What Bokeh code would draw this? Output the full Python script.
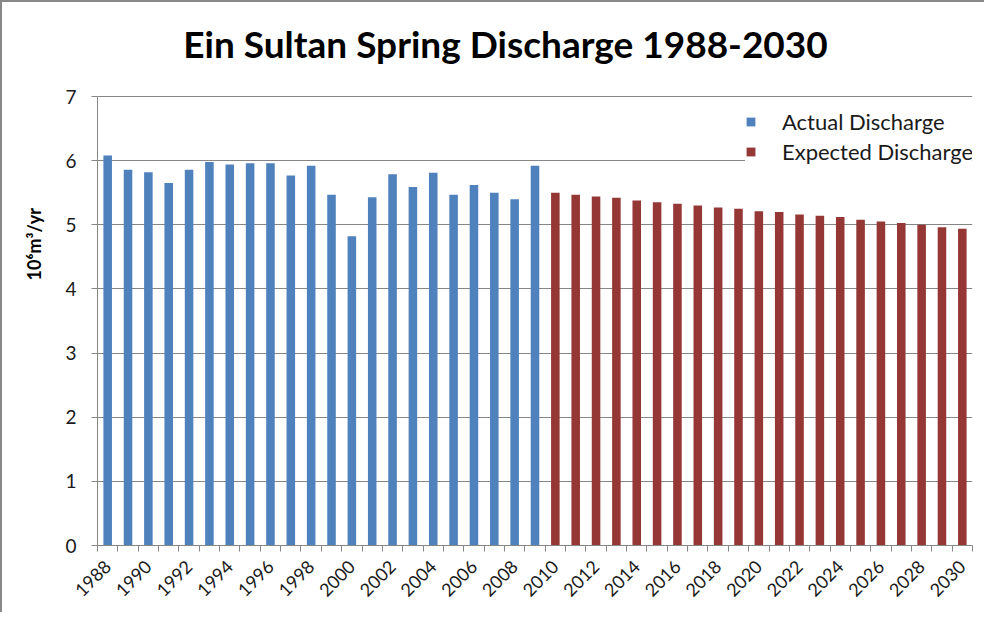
import math
from bokeh.plotting import figure
from bokeh.models import Range1d, FixedTicker, Title, Legend, Label
from bokeh.embed import file_html
from bokeh.resources import INLINE

actual_years = list(range(1988, 2010))
actual_values = [6.08, 5.86, 5.82, 5.65, 5.86, 5.98, 5.94, 5.96, 5.96, 5.77, 5.92,
                 5.47, 4.82, 5.43, 5.79, 5.59, 5.81, 5.47, 5.62, 5.50, 5.40, 5.92]
expected_years = list(range(2010, 2031))
expected_values = [5.50, 5.47, 5.44, 5.42, 5.38, 5.35, 5.33, 5.30, 5.27, 5.25, 5.21,
                   5.20, 5.16, 5.14, 5.12, 5.08, 5.05, 5.03, 5.00, 4.96, 4.94]
label_years = list(range(1988, 2031, 2))
y_ticks = [0, 1, 2, 3, 4, 5, 6, 7]

title_text = "Ein Sultan Spring Discharge 1988-2030"
y_label_text = "10\u2076m\u00b3/yr"

FONT = "Lato"
GRID = "#868686"

# frame spans the full height above the x axis; the value axis is bounded to 0..7
p = figure(width=984, height=612, output_backend="svg", toolbar_location=None,
           x_range=Range1d(1987.5, 2030.5), y_range=Range1d(0, 8.466),
           min_border_left=93, min_border_right=14, min_border_top=0, min_border_bottom=69)
p.styles = {"border-top": "2px solid #888888", "border-left": "2px solid #888888"}
p.outline_line_color = None
p.background_fill_color = "white"
p.border_fill_color = "white"

r1 = p.vbar(x=actual_years, top=actual_values, width=0.42, bottom=0,
            fill_color="#4F81BD", line_color=None)
r2 = p.vbar(x=expected_years, top=expected_values, width=0.42, bottom=0,
            fill_color="#953735", line_color=None)

# axes
p.xaxis.ticker = FixedTicker(ticks=label_years,
                             minor_ticks=[y - 0.5 for y in range(1988, 2032)])
p.xaxis.major_label_orientation = math.pi / 4
p.xaxis.major_tick_out = 0
p.xaxis.major_tick_in = 0
p.xaxis.minor_tick_out = 6
p.xaxis.minor_tick_in = 0
p.xaxis.minor_tick_line_color = GRID
p.xaxis.axis_line_color = GRID
p.xaxis.major_label_standoff = 12
p.xaxis.major_label_text_font = FONT
p.xaxis.major_label_text_font_size = "18px"
p.xaxis.major_label_text_color = "#1a1a1a"

p.yaxis.ticker = FixedTicker(ticks=y_ticks)
p.yaxis.bounds = (0, 7)
p.yaxis.minor_tick_line_color = None
p.yaxis.major_tick_out = 6
p.yaxis.major_tick_in = 0
p.yaxis.major_tick_line_color = GRID
p.yaxis.axis_line_color = GRID
p.yaxis.major_label_standoff = 15
p.yaxis.major_label_text_font = FONT
p.yaxis.major_label_text_font_size = "19px"
p.yaxis.major_label_text_color = "#1a1a1a"

p.xgrid.grid_line_color = None
p.ygrid.grid_line_color = GRID
p.ygrid.grid_line_width = 1
p.ygrid.ticker = FixedTicker(ticks=y_ticks)

# chart title inside the (extended) frame
p.add_layout(Label(x=2007.55, y=7.83, text=title_text, text_align="center",
                   text_baseline="alphabetic", text_font=FONT, text_font_style="bold",
                   text_font_size="37px", text_color="black"))
# y label as a rotated title on the left
p.add_layout(Title(text=y_label_text, align="left", offset=265, vertical_align="bottom",
                   standoff=36, text_font=FONT, text_font_style="bold",
                   text_font_size="18px", text_color="black"), "left")

legend = Legend(items=[("Actual Discharge", [r1]), ("Expected Discharge", [r2])],
                location=(648, 380), padding=8, spacing=3,
                glyph_width=11, glyph_height=11, label_height=20,
                label_text_font=FONT, label_text_font_size="22px",
                label_text_color="#1a1a1a", label_standoff=26,
                border_line_color=None, background_fill_color="white",
                background_fill_alpha=1.0)
p.add_layout(legend)

open("out.html", "w").write(file_html(p, INLINE))
